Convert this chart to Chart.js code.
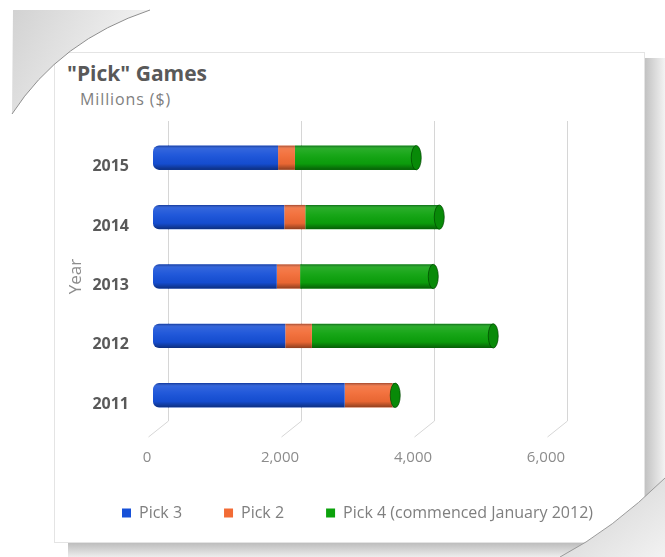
<!DOCTYPE html>
<html>
<head>
<meta charset="utf-8">
<title>"Pick" Games</title>
<script src="https://cdn.jsdelivr.net/npm/chart.js@4.4.1/dist/chart.umd.min.js"></script>
<style>
  html, body { margin: 0; padding: 0; background: #fff; }
  #wrap { position: relative; width: 665px; height: 557px; overflow: hidden; }
  #wrap svg, #wrap canvas { position: absolute; left: 0; top: 0; }
  .ttl { position: absolute; left: 67px; top: 60px; font: bold 21px 'Open Sans', sans-serif; color: #595959; line-height: 26px; white-space: nowrap; }
  .sub { position: absolute; left: 80px; top: 89px; font: 16px 'Open Sans', sans-serif; letter-spacing: 0.9px; color: #7f7f7f; line-height: 20px; white-space: nowrap; }
</style>
</head>
<body>
<div id="wrap">
  <!-- paper sheet with curled corners -->
  <svg width="665" height="557">
    <defs>
      <linearGradient id="curlTL" x1="0" y1="0" x2="1" y2="0.4">
        <stop offset="0" stop-color="#d2d2d2"/>
        <stop offset="1" stop-color="#f6f6f6"/>
      </linearGradient>
      <linearGradient id="shR" x1="0" y1="0" x2="1" y2="0">
        <stop offset="0" stop-color="#c2c2c2"/>
        <stop offset="1" stop-color="#f3f3f3"/>
      </linearGradient>
      <linearGradient id="shB" x1="0" y1="0" x2="0" y2="1">
        <stop offset="0" stop-color="#bdbdbd"/>
        <stop offset="1" stop-color="#ededed"/>
      </linearGradient>
      <linearGradient id="curlBR" x1="0" y1="0" x2="1" y2="1">
        <stop offset="0" stop-color="#cfcfcf"/>
        <stop offset="1" stop-color="#f2f2f2"/>
      </linearGradient>
    </defs>
    <rect x="645" y="58" width="20" height="440" fill="url(#shR)"/>
    <rect x="68" y="543" width="520" height="14" fill="url(#shB)"/>
    <rect x="54.5" y="52.5" width="590" height="490" fill="#fff" stroke="#e4e4e4"/>
    <path d="M13,10 L150,10 Q60,40 12,114 Z" fill="url(#curlTL)"/>
    <path d="M150,10 Q60,40 12,114" fill="none" stroke="#8e8e8e" stroke-width="1"/>
    <path d="M665,478 Q612,530 560,557 L665,557 Z" fill="url(#curlBR)"/>
    <path d="M665,478 Q612,530 560,557" fill="none" stroke="#9a9a9a" stroke-width="1"/>
  </svg>
  <div class="ttl">"Pick" Games</div>
  <div class="sub">Millions ($)</div>
  <canvas id="pick-chart" width="665" height="557"></canvas>
</div>
<script>
// sales by game, millions of dollars
const years = ['2011', '2012', '2013', '2014', '2015'];
const pick3 = [2883, 1989, 1862, 1974, 1881];
const pick2 = [720, 401, 350, 316, 254];
const pick4 = [40, 2727, 2003, 2015, 1824];
const xTicks = [0, 2000, 4000, 6000];
const seriesNames = ['Pick 3', 'Pick 2', 'Pick 4 (commenced January 2012)'];
const seriesColors = ['#1650d8', '#f26b35', '#0ca20c'];

Chart.defaults.font.family = "'Open Sans', sans-serif";

// vertical gridlines set back behind the bars, with a floor stroke at the bottom
const backGrid = {
  id: 'backGrid',
  beforeDatasetsDraw(chart) {
    const {ctx, chartArea, scales: {x}} = chart;
    ctx.save();
    ctx.strokeStyle = '#d6d6d6';
    ctx.lineWidth = 1;
    x.ticks.forEach(t => {
      const px = Math.round(x.getPixelForValue(t.value)) + 0.5;
      ctx.beginPath();
      ctx.moveTo(px + 15, chartArea.top - 7);
      ctx.lineTo(px + 15, chartArea.bottom - 4);
      ctx.lineTo(px - 5, chartArea.bottom + 12);
      ctx.stroke();
    });
    ctx.restore();
  }
};

// shading so the stacked bars read as cylinders, plus the end cap
const cylinder = {
  id: 'cylinder',
  afterDatasetsDraw(chart) {
    const ctx = chart.ctx;
    const metas = chart.getSortedVisibleDatasetMetas();
    ctx.save();
    ctx.globalCompositeOperation = 'source-atop';
    metas.forEach(meta => meta.data.forEach(bar => {
      const {x, y, base, height} = bar.getProps(['x', 'y', 'base', 'height']);
      const top = y - height / 2;
      const g = ctx.createLinearGradient(0, top, 0, top + height);
      g.addColorStop(0, 'rgba(0,0,30,0.35)');
      g.addColorStop(0.14, 'rgba(255,255,255,0.12)');
      g.addColorStop(0.4, 'rgba(255,255,255,0.05)');
      g.addColorStop(0.75, 'rgba(0,0,0,0.04)');
      g.addColorStop(1, 'rgba(0,0,0,0.42)');
      ctx.fillStyle = g;
      ctx.fillRect(Math.min(base, x), top, Math.abs(x - base), height);
    }));
    ctx.restore();

    const last = metas[metas.length - 1];
    ctx.save();
    last.data.forEach(bar => {
      const {x, y, height} = bar.getProps(['x', 'y', 'height']);
      ctx.beginPath();
      ctx.ellipse(x, y, 5, height / 2, 0, 0, Math.PI * 2);
      ctx.fillStyle = '#088a08';
      ctx.fill();
      ctx.strokeStyle = 'rgba(0,70,0,0.7)';
      ctx.lineWidth = 1;
      ctx.stroke();
    });
    ctx.restore();
  }
};

// move the legend row in under the plot and up against the axis labels
const legendShift = {
  id: 'legendShift',
  afterLayout(chart) {
    const lg = chart.legend;
    lg.left += 80;
    lg.right += 80;
    lg.top -= 18;
    lg.bottom -= 18;
  }
};

const values = [pick3, pick2, pick4];
const datasets = values.map((data, i) => ({
  label: seriesNames[i],
  data: data,
  backgroundColor: seriesColors[i],
  borderWidth: 0,
  borderSkipped: i === 0 ? false : 'start',
  borderRadius: i === 0 ? {topLeft: 6, bottomLeft: 6, topRight: 0, bottomRight: 0} : 0,
  barPercentage: 0.41,
  categoryPercentage: 1
}));

new Chart(document.getElementById('pick-chart'), {
  type: 'bar',
  data: { labels: years, datasets: datasets },
  options: {
    indexAxis: 'y',
    responsive: false,
    animation: false,
    layout: { padding: { top: 128, right: 0, bottom: 8, left: 0 } },
    scales: {
      x: {
        stacked: true,
        min: 0,
        max: 7700,
        afterBuildTicks: s => { s.ticks = xTicks.map(v => ({ value: v })); },
        afterFit: s => { s.height = 56; },
        grid: { display: false, drawTicks: false },
        border: { display: false },
        ticks: {
          padding: 24,
          labelOffset: -6,
          color: '#8c8c8c',
          font: { size: 15 },
          callback: v => Number(v).toLocaleString('en-US')
        }
      },
      y: {
        stacked: true,
        reverse: true,
        afterFit: s => { s.width = 153; },
        grid: { display: false, drawTicks: false },
        border: { display: false },
        ticks: {
          padding: 24,
          labelOffset: 9,
          color: '#595959',
          font: { size: 16, weight: 'bold' }
        },
        title: {
          display: true,
          text: 'Year',
          color: '#8c8c8c',
          font: { size: 17 },
          padding: { top: 66, bottom: 0 }
        }
      }
    },
    plugins: {
      legend: {
        position: 'bottom',
        align: 'start',
        labels: {
          boxWidth: 9,
          boxHeight: 9,
          padding: 42,
          color: '#7f7f7f',
          font: { size: 16 }
        }
      },
      tooltip: { enabled: false }
    }
  },
  plugins: [backGrid, cylinder, legendShift]
});
</script>
</body>
</html>
